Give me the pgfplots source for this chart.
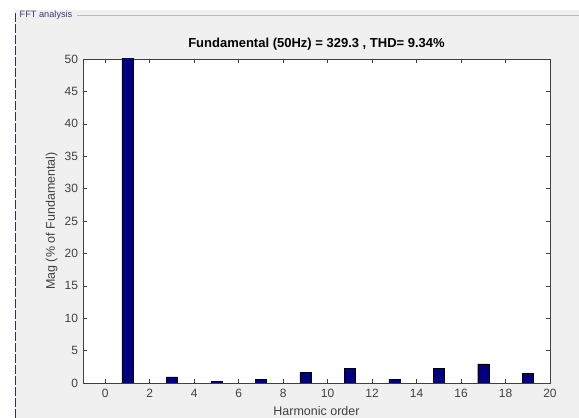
\documentclass[border=0pt]{standalone}
\usepackage{pgfplots}
\pgfplotsset{compat=1.18}
\usepackage{fontspec}
\setmainfont{Liberation Sans}
\definecolor{panel}{HTML}{F0F0F0}
\definecolor{barblue}{HTML}{000080}
\definecolor{axisgray}{HTML}{404040}
\definecolor{boxtitle}{HTML}{3C3C78}

\pgfplotstableread{
h   mag
1   100
3   0.95
5   0.27
7   0.55
9   1.6
11  2.3
13  0.6
15  2.3
17  2.95
19  1.45
}\harmonics

\begin{document}
\begin{tikzpicture}[x=1pt,y=1pt]
  % page and panel background
  \useasboundingbox (0,0) rectangle (579,418);
  \fill[white] (0,0) rectangle (579,418);
  \fill[panel] (15,0) rectangle (579,408);
  % group box frame
  \draw[gray!55, line width=0.8pt] (77,403) -- (579,403);
  \draw[boxtitle!80!black, line width=1pt, dash pattern=on 9pt off 2pt] (15,0) -- (15,405);
  \node[anchor=west, inner sep=0pt, text=boxtitle, font=\fontsize{9.2}{10}\selectfont] at (19.5,402.5) {FFT analysis};

  \begin{axis}[
    at={(83pt,35pt)}, anchor=south west,
    scale only axis, width=467pt, height=324pt,
    xmin=-1, xmax=20, ymin=0, ymax=50,
    xtick={0,2,...,20}, ytick={0,5,...,50},
    tick align=inside, tick pos=both,
    major tick length=4pt,
    axis background/.style={fill=white},
    axis line style={axisgray, line width=0.6pt},
    every tick/.style={axisgray, line width=0.5pt},
    tick label style={text=axisgray, font=\fontsize{12}{13}\selectfont},
    xticklabel style={yshift=-3pt},
    yticklabel style={xshift=-1.5pt},
    /pgf/number format/assume math mode=true,
    xlabel={Harmonic order},
    ylabel={Mag (\% of Fundamental)},
    label style={text=axisgray, font=\fontsize{12.5}{14}\selectfont},
    xlabel style={at={(axis description cs:0.5,-0.0864)}, anchor=center},
    ylabel style={at={(axis description cs:-0.067,0.5)}, anchor=center},
    title={\textbf{Fundamental (50Hz) = 329.3 , THD= 9.34\%}},
    title style={font=\fontsize{13}{14}\selectfont, at={(axis description cs:0.5,1)}, anchor=center, yshift=9pt},
    clip=true,
  ]
    \addplot[ybar, bar width=0.5, fill=barblue, draw=black, line width=0.4pt]
      table[x=h, y=mag] {\harmonics};
  \end{axis}
\end{tikzpicture}
\end{document}
